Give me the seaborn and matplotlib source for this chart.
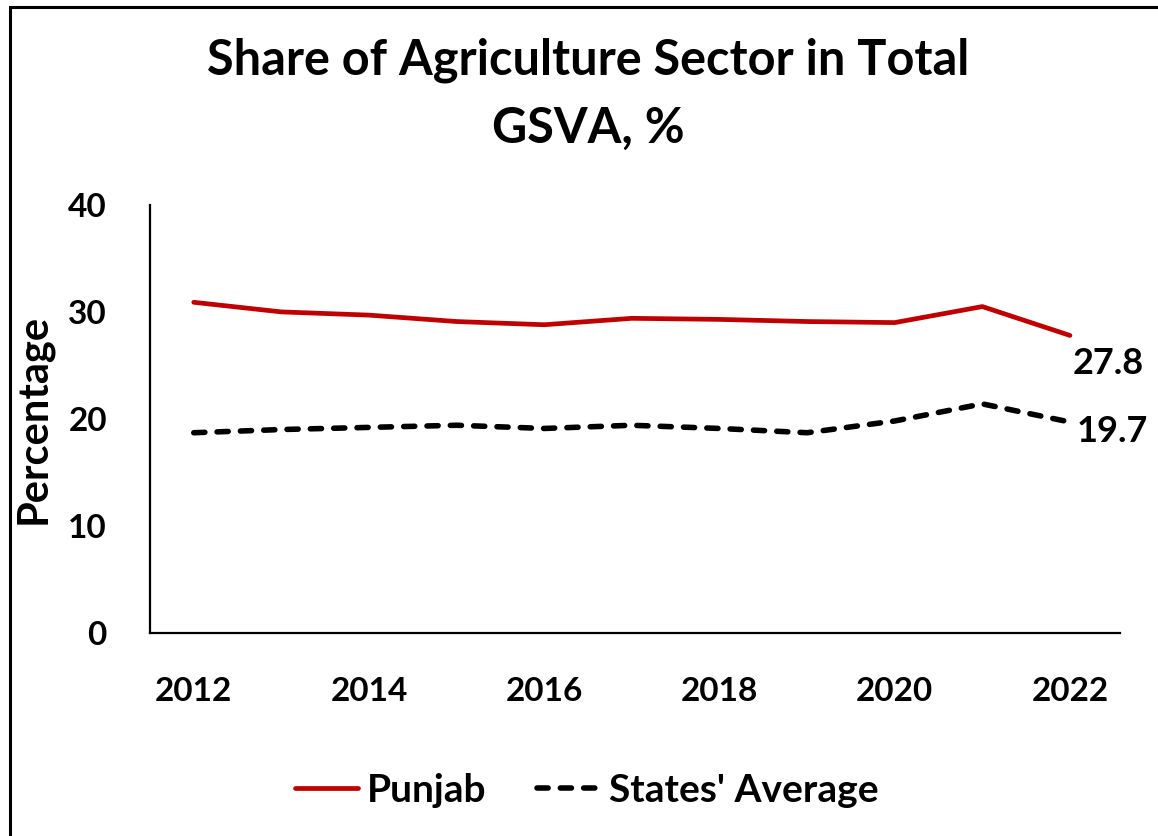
import matplotlib
matplotlib.use("Agg")
import matplotlib.pyplot as plt
import seaborn as sns
import pandas as pd
from matplotlib.lines import Line2D
from matplotlib.patches import Rectangle

# dados
anos = list(range(2012, 2023))
punjab = [30.9, 30.0, 29.7, 29.1, 28.8, 29.4, 29.3, 29.1, 29.0, 30.5, 27.8]
media_estados = [18.7, 19.0, 19.2, 19.4, 19.1, 19.4, 19.1, 18.7, 19.8, 21.4, 19.7]
yticks = [0, 10, 20, 30, 40]
xticks = [2012, 2014, 2016, 2018, 2020, 2022]

df = pd.DataFrame({"ano": anos, "Punjab": punjab, "States' Average": media_estados})

sns.set_style("white")
plt.rcParams['font.family'] = ['Lato', 'DejaVu Sans']
plt.rcParams['font.weight'] = 'bold'
plt.rcParams['text.color'] = 'black'
plt.rcParams['axes.labelcolor'] = 'black'
plt.rcParams['xtick.color'] = 'black'
plt.rcParams['ytick.color'] = 'black'

fig = plt.figure(figsize=(11.58, 8.36), dpi=100)
ax = fig.add_axes([0.1295, 0.2432, 0.8376, 0.5116])

vermelho = '#C00000'
sns.lineplot(data=df, x="ano", y="Punjab", ax=ax, color=vermelho, linewidth=3.4,
             solid_capstyle='round')
sns.lineplot(data=df, x="ano", y="States' Average", ax=ax, color='black', linewidth=4,
             linestyle=(0, (2, 2.2)), dash_capstyle='round')

ax.set_xlim(2011.5, 2022.57)
ax.set_ylim(0, 40)
ax.set_yticks(yticks)
ax.set_xticks(xticks)
ax.set_xticklabels([str(x) for x in xticks], fontsize=24, fontweight='bold')
ax.set_yticklabels([str(y) for y in yticks], fontsize=24, fontweight='bold')
ax.tick_params(axis='y', length=0, pad=31)
ax.tick_params(axis='x', length=0, pad=32)
ax.set_xlabel('')
ax.set_ylabel('Percentage', fontsize=30, fontweight='bold')
ax.yaxis.set_label_coords(-0.1, 0.5)

for s in ['top', 'right']:
    ax.spines[s].set_visible(False)
for s in ['left', 'bottom']:
    ax.spines[s].set_color('black')
    ax.spines[s].set_linewidth(1.6)

# rótulos finais
ax.annotate(f"{punjab[-1]}", (anos[-1], punjab[-1]), xytext=(2, -20),
            textcoords='offset points', fontsize=26, fontweight='bold', va='center')
ax.annotate(f"{media_estados[-1]}", (anos[-1], media_estados[-1]), xytext=(5, -7),
            textcoords='offset points', fontsize=26, fontweight='bold', va='center')

fig.text(0.508, 0.928, "Share of Agriculture Sector in Total", ha='center', va='center',
         fontsize=35, fontweight='bold')
fig.text(0.508, 0.847, "GSVA, %", ha='center', va='center', fontsize=35, fontweight='bold')

handles = [Line2D([], [], color=vermelho, linewidth=3.4, solid_capstyle='round'),
           Line2D([], [], color='black', linewidth=4, linestyle=(0, (2, 2.2)),
                  dash_capstyle='round')]
fig.legend(handles, ["Punjab", "States' Average"], loc='center', bbox_to_anchor=(0.507, 0.055),
           ncol=2, frameon=False, fontsize=28, handlelength=1.6, handletextpad=0.25,
           columnspacing=1.3)

# moldura do gráfico
fig.patches.append(Rectangle((10 / 1158, -0.1), 1.2, 0.1 + 1 - 7 / 836, transform=fig.transFigure,
                             fill=False, edgecolor='black', linewidth=2.2))

plt.savefig('out.png', dpi=100)
